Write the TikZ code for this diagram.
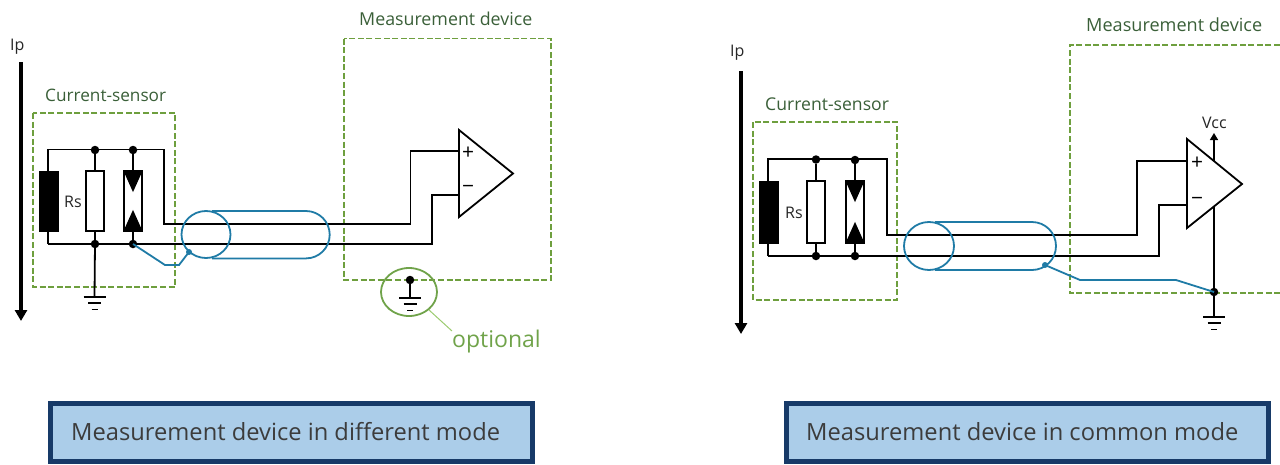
\documentclass[tikz,border=0pt]{standalone}
\usepackage{fontspec}
\setmainfont{Open Sans}
\usetikzlibrary{arrows.meta,shapes.geometric}
\definecolor{dashgreen}{HTML}{6E9F3E}
\definecolor{labelgreen}{HTML}{3A5F38}
\definecolor{optgreen}{HTML}{70A34A}
\definecolor{leadgreen}{HTML}{9CCB70}
\definecolor{cableblue}{HTML}{1F7BA6}
\definecolor{capfill}{HTML}{ABCDE9}
\definecolor{capline}{HTML}{173A68}
\definecolor{inktext}{HTML}{262626}
\tikzset{
  wire/.style={line width=1.8pt,black,line join=miter},
  boxdash/.style={line width=1.8pt,dashgreen,dash pattern=on 6pt off 2.6pt},
  cable/.style={line width=1.8pt,cableblue},
  dotb/.style={circle,fill=black,inner sep=0pt,minimum size=8.5pt},
  dotc/.style={circle,fill=cableblue,inner sep=0pt,minimum size=6pt},
  core/.style={rectangle,fill=black,draw=black,inner sep=0pt,minimum width=19pt,minimum height=60pt},
  resbox/.style={rectangle,fill=white,draw=black,line width=1.8pt,inner sep=0pt,minimum width=18pt,minimum height=60pt},
  greenlabel/.style={anchor=base west,inner sep=0pt,text=labelgreen,font=\fontsize{17.2}{20}\selectfont},
  plainlabel/.style={anchor=base west,inner sep=0pt,text=inktext,font=\fontsize{16}{19}\selectfont},
  signlabel/.style={anchor=center,inner sep=0pt,text=black,font=\fontsize{21}{24}\selectfont},
  captionbox/.style={rectangle,fill=capfill,draw=capline,line width=4.5pt,inner sep=0pt,anchor=north west},
  captiontext/.style={anchor=base west,inner sep=0pt,text=inktext!90,font=\fontsize{23.7}{28}\selectfont},
  ipline/.style={line width=3.5pt,black,-{Triangle[length=11pt,width=12pt]}},
}
\newcommand{\groundmark}[1]{%
  \draw[wire,shift={(#1)}] (-11,0)--(11,0);
  \draw[line width=1.4pt,shift={(#1)}] (-6.5,6)--(6.5,6);
  \draw[line width=1.8pt,shift={(#1)}] (-3,12.5)--(3,12.5);
}
\newcommand{\diodes}[1]{%
  \fill[black] (#1.north west)--(#1.north east)--([yshift=-22pt]#1.north)--cycle;
  \fill[black] (#1.south west)--(#1.south east)--([yshift=22pt]#1.south)--cycle;
}
\begin{document}
\begin{tikzpicture}[x=1pt,y=-1pt]
\useasboundingbox (0,0) rectangle (1280,464);

% ===== left circuit =====
\coordinate (lipa) at (21,62);
\coordinate (lipb) at (21,321);
\draw[ipline] (lipa)--(lipb);
\node[plainlabel] (lip) at (10,50) {Ip};

\node[greenlabel] (lcs) at (45,101) {Current-sensor};
\node[greenlabel,font=\fontsize{17.8}{20}\selectfont] (lmd) at (359,25) {Measurement device};

\coordinate (lcsa) at (33,113);
\coordinate (lcsb) at (175,287);
\draw[boxdash] (lcsa) rectangle (lcsb);
\coordinate (lmda) at (344,38.5);
\coordinate (lmdb) at (551,280);
\draw[boxdash] (lmda) rectangle (lmdb);

\coordinate (lta) at (48,149.5);
\coordinate (ltb) at (164,149.5);
\coordinate (ltc) at (164,224);
\coordinate (ltd) at (410.5,224);
\coordinate (lte) at (410.5,151);
\coordinate (ltf) at (459,151);
\coordinate (lba) at (48,244);
\coordinate (lbb) at (432,244);
\coordinate (lbc) at (432,195);
\coordinate (lbd) at (459,195);
\coordinate (lcore) at (49,201);
\draw[wire] (lba)--(lbb)--(lbc)--(lbd);
\draw[wire] (lba)--(lta)--(ltb)--(ltc)--(ltd)--(lte)--(ltf);

\node[core] (lk) at (lcore) {};
\node[dotb] (ln1) at (95,150) {};
\node[dotb] (ln2) at (133,150) {};
\node[dotb] (ln3) at (95,244) {};
\node[dotb] (ln4) at (133,244) {};
\node[resbox] (lr) at (95,201) {};
\node[resbox] (ld) at (133,201) {};
\draw[wire] (ln1)--(lr) (lr)--(ln3) (ln2)--(ld) (ld)--(ln4);
\diodes{ld}
\node[plainlabel] (lrs) at (64,207) {Rs};

\coordinate (lg) at (94.5,297);
\draw[wire] (ln3.center)--(lg);
\groundmark{lg}

% op amp left
\coordinate (lo1) at (459,130);
\coordinate (lo2) at (459,217);
\coordinate (lo3) at (513,173.5);
\draw[wire,fill=white] (lo1)--(lo3)--(lo2)--cycle;
\node[signlabel] (lplus) at (468,153.5) {+};
\node[signlabel] (lminus) at (468,189.5) {−};

% cable left
\draw[cable] (212,211) -- (306,211) arc[start angle=-90,end angle=90,radius=23.7] -- (212,258.4);
\node[cable,draw,ellipse,inner sep=0pt,minimum width=49pt,minimum height=47pt] (lcable) at (206,234.5) {};
\node[dotc] (lsh) at (189,252) {};
\coordinate (lsa) at (165,265);
\coordinate (lsb) at (179,265);
\draw[cable] (ln4.center)--(lsa)--(lsb)--(lsh.center);

% optional ground
\node[dotb] (lo) at (410,280) {};
\coordinate (lg2) at (410,298);
\draw[wire] (lo.center)--(lg2);
\groundmark{lg2}
\node[draw=optgreen,line width=1.8pt,ellipse,inner sep=0pt,minimum width=56pt,minimum height=48pt] (lopt) at (409,292) {};
\node[anchor=base west,inner sep=0pt,text=optgreen,font=\fontsize{23}{27}\selectfont] (loptt) at (452,347) {optional};
\coordinate (lleada) at (429,310);
\coordinate (lleadb) at (452,331);
\draw[leadgreen,line width=1pt] (lleada)--(lleadb);

% ===== right circuit =====
\coordinate (ripa) at (741,71);
\coordinate (ripb) at (741,334);
\draw[ipline] (ripa)--(ripb);
\node[plainlabel] (rip) at (730,56) {Ip};

\node[greenlabel,font=\fontsize{17.6}{20}\selectfont] (rcs) at (765,110) {Current-sensor};
\node[greenlabel,font=\fontsize{18.1}{20}\selectfont] (rmd) at (1086,31) {Measurement device};

\coordinate (rcsa) at (753,122);
\coordinate (rcsb) at (897,300);
\draw[boxdash] (rcsa) rectangle (rcsb);
\coordinate (rmda) at (1280,45);
\coordinate (rmdb) at (1070,45);
\coordinate (rmdc) at (1070,293);
\coordinate (rmdd) at (1280,293);
\draw[boxdash] (rmda)--(rmdb)--(rmdc)--(rmdd);

\coordinate (rta) at (768,159);
\coordinate (rtb) at (887,159);
\coordinate (rtc) at (887,235);
\coordinate (rtd) at (1137,235);
\coordinate (rte) at (1137,161);
\coordinate (rtf) at (1187,161);
\coordinate (rba) at (768,256);
\coordinate (rbb) at (1159,256);
\coordinate (rbc) at (1159,205);
\coordinate (rbd) at (1187,205);
\draw[wire] (rba)--(rbb)--(rbc)--(rbd);
\draw[wire] (rba)--(rta)--(rtb)--(rtc)--(rtd)--(rte)--(rtf);

\node[core,minimum height=62pt] (rk) at (769,212) {};
\node[dotb] (rn1) at (816,159.5) {};
\node[dotb] (rn2) at (855,160) {};
\node[dotb] (rn3) at (816,256) {};
\node[dotb] (rn4) at (855,256) {};
\node[resbox,minimum height=62pt] (rr) at (816,212) {};
\node[resbox,minimum height=62pt] (rd) at (855,212) {};
\draw[wire] (rn1)--(rr) (rr)--(rn3) (rn2)--(rd) (rd)--(rn4);
\diodes{rd}
\node[plainlabel] (rrs) at (785,218) {Rs};

% supply lines
\coordinate (rvt) at (1214,133);
\coordinate (rvb) at (1214,165);
\draw[line width=1.4pt,-{Triangle[length=7pt,width=8pt]}] (rvb)--(rvt);
\node[plainlabel] (rvcc) at (1202,128) {Vcc};
\coordinate (rsup) at (1214,205);
\node[dotb] (rj) at (1214,292) {};
\coordinate (rg) at (1214,317);
\draw[wire] (rsup)--(rj.center)--(rg);
\groundmark{rg}

% op amp right
\coordinate (ro1) at (1187,139);
\coordinate (ro2) at (1187,228);
\coordinate (ro3) at (1242,184);
\draw[wire,fill=white] (ro1)--(ro3)--(ro2)--cycle;
\node[signlabel] (rplus) at (1197,163) {+};
\node[signlabel] (rminus) at (1197,201) {−};

% cable right
\draw[cable] (935,222) -- (1032,222) arc[start angle=-90,end angle=90,radius=24] -- (935,270);
\node[cable,draw,ellipse,inner sep=0pt,minimum width=50pt,minimum height=48pt] (rcable) at (929,246) {};
\node[dotc] (rsh) at (1045,265) {};
\coordinate (rsa) at (1080,280);
\coordinate (rsb) at (1176,280);
\draw[cable] (rsh.center)--(rsa)--(rsb)--(rj.center);

% ===== captions =====
\node[captionbox,minimum width=482pt,minimum height=58pt] (lcap) at (48,401) {};
\node[captiontext] (lcapt) at (71,440) {Measurement device in different mode};
\node[captionbox,minimum width=482pt,minimum height=58pt] (rcap) at (784,401) {};
\node[captiontext] (rcapt) at (806,440) {Measurement device in common mode};
\end{tikzpicture}
\end{document}
